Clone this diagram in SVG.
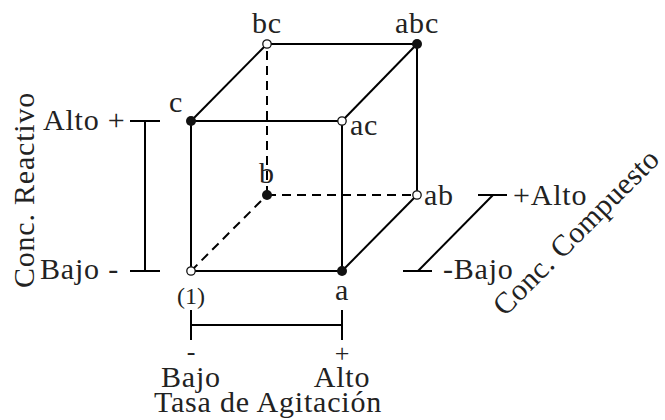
<svg xmlns="http://www.w3.org/2000/svg" width="665" height="420" viewBox="0 0 665 420">
<style>
  .ln { stroke: #000; stroke-width: 2; fill: none; }
  .ds { stroke: #000; stroke-width: 2; fill: none; stroke-dasharray: 9 6; }
  .full { fill: #111; stroke: none; }
  .open { fill: #fff; stroke: #111; stroke-width: 1.3; }
  text { font-family: "Liberation Serif", "Times New Roman", serif; font-size: 30px; letter-spacing: 0.8px; fill: #222; }
  .sm { font-size: 24px; letter-spacing: 0; }
  .sg { font-size: 26px; letter-spacing: 0; }
  .mid { text-anchor: middle; }
</style>
<rect width="665" height="420" fill="#fff"/>
<g id="connectors">
  <line class="ds" x1="191" y1="271" x2="267" y2="195"/>
  <line class="ds" x1="267" y1="195" x2="267" y2="44"/>
  <line class="ds" x1="267" y1="195" x2="417" y2="195"/>
  <line class="ln" x1="191" y1="121" x2="342" y2="121"/>
  <line class="ln" x1="191" y1="121" x2="191" y2="271"/>
  <line class="ln" x1="191" y1="271" x2="342" y2="271"/>
  <line class="ln" x1="342" y1="121" x2="342" y2="271"/>
  <line class="ln" x1="267" y1="44" x2="417" y2="44"/>
  <line class="ln" x1="417" y1="44" x2="417" y2="195"/>
  <line class="ln" x1="191" y1="121" x2="267" y2="44"/>
  <line class="ln" x1="342" y1="121" x2="417" y2="44"/>
  <line class="ln" x1="342" y1="271" x2="417" y2="195"/>
</g>
<g id="node-1"><circle class="open" cx="191" cy="271" r="4.2"/><text class="sm mid" x="191" y="304">(1)</text></g>
<g id="node-a"><circle class="full" cx="342" cy="271" r="5"/><text class="mid" x="342" y="300">a</text></g>
<g id="node-b"><circle class="full" cx="267" cy="195" r="5"/><text class="mid" x="267" y="183">b</text></g>
<g id="node-ab"><circle class="open" cx="417" cy="195" r="4.2"/><text x="424" y="205">ab</text></g>
<g id="node-c"><circle class="full" cx="191" cy="121" r="5"/><text class="mid" x="176" y="112">c</text></g>
<g id="node-ac"><circle class="open" cx="342" cy="121" r="4.2"/><text x="350" y="135">ac</text></g>
<g id="node-bc"><circle class="open" cx="267" cy="44" r="4.2"/><text class="mid" x="267" y="33">bc</text></g>
<g id="node-abc"><circle class="full" cx="417" cy="44" r="5"/><text class="mid" x="417" y="33">abc</text></g>
<g id="axis-reactivo">
  <line class="ln" x1="130" y1="121" x2="160" y2="121"/>
  <line class="ln" x1="145" y1="121" x2="145" y2="271"/>
  <line class="ln" x1="130" y1="271" x2="160" y2="271"/>
  <text x="43" y="130">Alto +</text>
  <text x="40" y="279">Bajo -</text>
  <text class="mid" x="34" y="190" transform="rotate(-90 34 190)">Conc. Reactivo</text>
</g>
<g id="axis-agitacion">
  <line class="ln" x1="191" y1="310" x2="191" y2="340"/>
  <line class="ln" x1="191" y1="325" x2="342" y2="325"/>
  <line class="ln" x1="342" y1="310" x2="342" y2="340"/>
  <text class="sg mid" x="191" y="360">-</text>
  <text class="sg mid" x="342" y="362">+</text>
  <text class="mid" x="191" y="387">Bajo</text>
  <text class="mid" x="342" y="387">Alto</text>
  <text class="mid" x="268" y="412">Tasa de Agitación</text>
</g>
<g id="axis-compuesto">
  <line class="ln" x1="478" y1="195" x2="507" y2="195"/>
  <line class="ln" x1="493" y1="195" x2="418" y2="271"/>
  <line class="ln" x1="403" y1="271" x2="432" y2="271"/>
  <text x="513" y="205">+Alto</text>
  <text x="443" y="279">-Bajo</text>
  <text class="mid" x="583" y="239" style="letter-spacing:0.4px" transform="rotate(-45 583 239)">Conc. Compuesto</text>
</g>
</svg>
